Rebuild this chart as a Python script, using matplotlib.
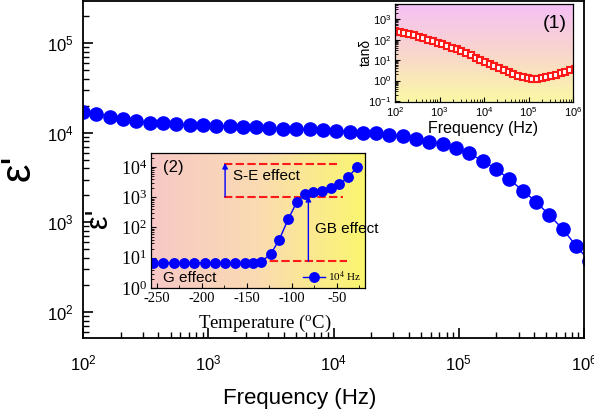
import numpy as np
import matplotlib
matplotlib.use('Agg')
import matplotlib.pyplot as plt
from matplotlib.ticker import LogLocator, FuncFormatter, NullFormatter, MultipleLocator, FixedLocator
from matplotlib.colors import LinearSegmentedColormap

plt.rcParams['axes.unicode_minus'] = False

W, H = 594, 411
SANS = 'Liberation Sans'
SERIF = 'Liberation Serif'

# ---- data ----
log_freq = [2.000, 2.106, 2.213, 2.319, 2.426, 2.532, 2.638, 2.745, 2.851, 2.957,
            3.064, 3.170, 3.277, 3.383, 3.489, 3.596, 3.702, 3.809, 3.915, 4.021,
            4.128, 4.234, 4.340, 4.447, 4.553, 4.660, 4.766, 4.872, 4.979, 5.085,
            5.191, 5.298, 5.404, 5.511, 5.617, 5.723, 5.830, 5.936, 6.043]
log_eps = [4.234, 4.209, 4.179, 4.150, 4.131, 4.112, 4.105, 4.094, 4.086, 4.083,
           4.075, 4.071, 4.067, 4.062, 4.052, 4.046, 4.041, 4.036, 4.030, 4.022,
           4.011, 4.000, 3.993, 3.978, 3.965, 3.933, 3.900, 3.871, 3.826, 3.770,
           3.684, 3.595, 3.480, 3.353, 3.230, 3.081, 2.925, 2.739, 2.568]
log_tan = [2.44, 2.39, 2.33, 2.27, 2.21, 2.14, 2.07, 2.00, 1.93, 1.86,
           1.78, 1.70, 1.61, 1.52, 1.43, 1.33, 1.23, 1.12, 1.00, 0.90,
           0.80, 0.70, 0.60, 0.50, 0.41, 0.32, 0.24, 0.17, 0.12, 0.10,
           0.10, 0.12, 0.16, 0.22, 0.29, 0.36, 0.44, 0.51, 0.58]
temp_c = [-253.7, -242.6, -230.8, -219.7, -208.6, -196.7, -185.6, -174.4, -163.3, -152.2,
          -142.6, -133.8, -123.4, -113.8, -103.8, -94.4, -85.2, -76.0, -66.7, -56.7,
          -47.1, -37.1, -27.1]
eps_T = [6.9, 6.9, 6.9, 6.9, 6.9, 6.9, 6.9, 6.9, 6.9, 6.9,
         6.9, 7.5, 13, 40, 190, 690, 1280, 1460, 1650, 2000,
         2650, 4700, 10000]

freq = 10 ** np.array(log_freq)
eps = 10 ** np.array(log_eps)
tand = 10 ** np.array(log_tan)

# ---- helpers ----
def fx(p):
    return p / W

def fy(p):
    return 1 - p / H

def rect(l, t, r, b):
    return [l / W, 1 - b / H, (r - l) / W, (b - t) / H]

def pow_fmt(v, pos):
    e = int(round(np.log10(v)))
    return r'$\mathregular{10^{%d}}$' % e

BLUE = '#0000ff'
RED = '#ff1a1a'

fig = plt.figure(figsize=(W / 100, H / 100), dpi=100)

# ---- main axes ----
ax = fig.add_axes(rect(83, 1.5, 584, 338))
ax.plot(freq, eps, 'o-', color=BLUE, ms=9.5, lw=1)
ax.set_xscale('log')
ax.set_yscale('log')
ax.set_xlim(1e2, 1e6)
ax.set_ylim(10 ** 1.709, 10 ** 5.464)
for a in (ax.xaxis, ax.yaxis):
    a.set_major_locator(LogLocator(base=10, numticks=20))
    a.set_minor_locator(LogLocator(base=10, subs=np.arange(2, 10), numticks=100))
    a.set_major_formatter(FuncFormatter(pow_fmt))
    a.set_minor_formatter(NullFormatter())
ax.tick_params(which='both', direction='in', top=False, right=False,
               labelsize=12, labelfontfamily=SANS)
ax.tick_params(which='major', length=7, width=1.2)
ax.tick_params(axis='x', which='major', pad=11)
ax.tick_params(axis='y', which='major', pad=7)
ax.tick_params(which='minor', length=4, width=1)
for s in ax.spines.values():
    s.set_linewidth(1.3)

fig.text(fx(300), fy(398), 'Frequency (Hz)', fontsize=16, family=SANS,
         ha='center', va='center')
fig.text(fx(19), fy(168), "ε'", fontsize=30, family=SANS, rotation=90,
         ha='center', va='center')

# ---- inset 1 (tan delta) ----
r1 = rect(395, 4, 573, 102)
bg1 = fig.add_axes(r1)
cm1 = LinearSegmentedColormap.from_list('g1', ['#f5c0f5', '#f9d6cc', '#fbf8a6'])
bg1.imshow(np.linspace(0, 1, 256).reshape(-1, 1), cmap=cm1, aspect='auto',
           extent=[0, 1, 0, 1])
bg1.axis('off')
ax1 = fig.add_axes(r1)
ax1.set_facecolor('none')
ax1.plot(freq, tand, 's', mfc='white', mec=RED, ms=4.6, mew=1.5)
ax1.set_xscale('log')
ax1.set_yscale('log')
ax1.set_xlim(1e2, 1e6)
ax1.set_ylim(0.09, 5500)
for a in (ax1.xaxis, ax1.yaxis):
    a.set_major_locator(LogLocator(base=10, numticks=20))
    a.set_minor_locator(LogLocator(base=10, subs=np.arange(2, 10), numticks=100))
    a.set_major_formatter(FuncFormatter(pow_fmt))
    a.set_minor_formatter(NullFormatter())
ax1.tick_params(which='both', direction='in', labelsize=8, labelfontfamily=SANS)
ax1.tick_params(which='major', length=3.5, width=0.8, pad=2.5)
ax1.tick_params(which='minor', length=2, width=0.6)
for s in ax1.spines.values():
    s.set_linewidth(0.9)
fig.text(fx(483), fy(128), 'Frequency (Hz)', fontsize=11.5, family=SANS,
         ha='center', va='center')
fig.text(fx(366), fy(52), 'tanδ', fontsize=10, family=SANS, rotation=90,
         ha='center', va='center')
fig.text(fx(543), fy(23), '(1)', fontsize=14, family=SANS, ha='left', va='center')

# ---- inset 2 (temperature) ----
r2 = rect(151, 153, 365, 288)
bg2 = fig.add_axes(r2)
cm2 = LinearSegmentedColormap.from_list('g2', ['#f7c8c6', '#fadbb2', '#fbf670'])
bg2.imshow(np.linspace(0, 1, 256).reshape(1, -1), cmap=cm2, aspect='auto',
           extent=[0, 1, 0, 1])
bg2.axis('off')
ax2 = fig.add_axes(r2)
ax2.set_facecolor('none')
ax2.set_yscale('log')
ax2.set_xlim(-256.3, -18.6)
ax2.set_ylim(1, 10 ** 4.46)

dash = (0, (4, 1.6))
ax2.plot([-175, -50], [12900, 12900], color=RED, ls=dash, lw=1.5)
ax2.plot([-175, -43], [1050, 1050], color=RED, ls=dash, lw=1.5)
ax2.plot([-138, -39], [7.8, 7.8], color=RED, ls=dash, lw=1.5)
ax2.annotate('', xy=(-174, 13500), xytext=(-174, 1050),
             arrowprops=dict(arrowstyle='-|>', color=BLUE, lw=1,
                             mutation_scale=8, shrinkA=0, shrinkB=0))
ax2.annotate('', xy=(-81.5, 1100), xytext=(-81.5, 7.8),
             arrowprops=dict(arrowstyle='-|>', color=BLUE, lw=1,
                             mutation_scale=8, shrinkA=0, shrinkB=0))

ax2.plot(temp_c, eps_T, 'o-', color=BLUE, ms=6.8, lw=1,
         label=r'$\mathregular{10^{4}}$ Hz')
ax2.xaxis.set_major_locator(FixedLocator([-250, -200, -150, -100, -50]))
ax2.xaxis.set_minor_locator(MultipleLocator(25))
ax2.yaxis.set_major_locator(LogLocator(base=10, numticks=20))
ax2.yaxis.set_minor_locator(LogLocator(base=10, subs=np.arange(2, 10), numticks=100))
ax2.yaxis.set_major_formatter(FuncFormatter(pow_fmt))
ax2.yaxis.set_minor_formatter(NullFormatter())
ax2.tick_params(which='both', direction='in', labelfontfamily=SERIF)
ax2.tick_params(axis='y', which='major', labelsize=13)
ax2.tick_params(axis='x', which='major', labelsize=10.5)
ax2.tick_params(which='major', length=3.5, width=0.8, pad=3)
ax2.tick_params(which='minor', length=2, width=0.6)
for s in ax2.spines.values():
    s.set_linewidth(0.9)
ax2.legend(loc='lower right', frameon=False, prop={'family': SERIF, 'size': 8},
           handlelength=2.0, handletextpad=0.3, borderaxespad=0.15,
           borderpad=0.2)

fig.text(fx(265), fy(323), r'Temperature ($\mathregular{^{o}}$C)', fontsize=13.5,
         family=SERIF, ha='center', va='center')
fig.text(fx(99), fy(218), "ε'", fontsize=22, family=SANS, rotation=90,
         ha='center', va='center')
fig.text(fx(163), fy(167), '(2)', fontsize=12, family=SANS, ha='left', va='center')
fig.text(fx(233), fy(176), 'S-E effect', fontsize=11, family=SANS, ha='left', va='center')
fig.text(fx(315), fy(229), 'GB effect', fontsize=11, family=SANS, ha='left', va='center')
fig.text(fx(163), fy(278), 'G effect', fontsize=11, family=SANS, ha='left', va='center')

fig.savefig('out.png', dpi=100)
